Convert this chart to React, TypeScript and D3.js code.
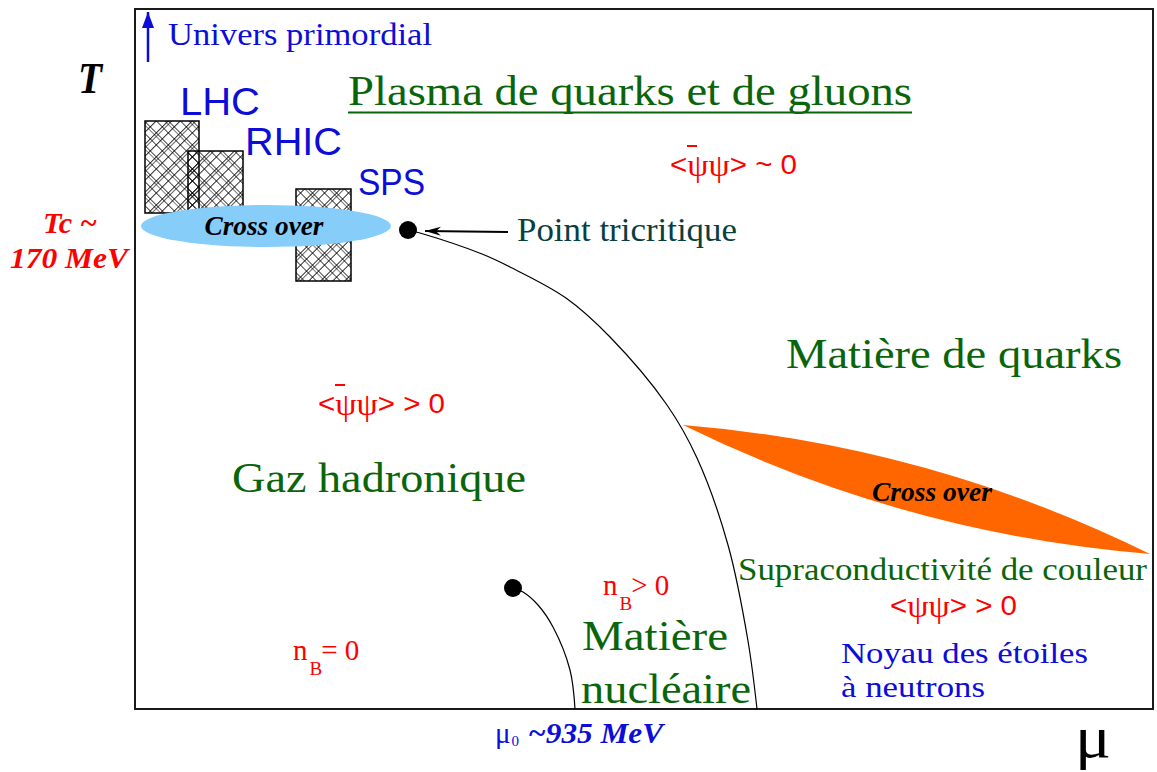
import React from "react";
import * as d3 from "d3";

// ---------- data (diagram units: mu 0..1018, T 0..700) ----------
const MU_DOMAIN: [number, number] = [0, 1018];
const T_DOMAIN: [number, number] = [0, 700];

// first-order transition line starting at the tricritical point
const firstOrderLine: [number, number][] = [
  [273, 479], [285, 476], [347, 455], [375, 442], [431, 411], [475, 372], [532, 304], [562, 251], [593, 164], [613, 68], [622, 0],
];
// liquid-gas line of nuclear matter
const nuclearLine: [number, number][] = [
  [378, 121], [388, 117], [403, 104], [418, 82], [435, 39], [440, 0],
];
const criticalPoints = [
  { name: "tricritique", mu: 273, T: 479 },
  { name: "nucleaire", mu: 378, T: 121 },
];
const experiments = [
  { name: "LHC", mu0: 10, mu1: 64, T0: 496, T1: 588, labelMu: 45, labelT: 594 },
  { name: "RHIC", mu0: 53, mu1: 108, T0: 496, T1: 558, labelMu: 110, labelT: 554 },
  { name: "SPS", mu0: 161, mu1: 216, T0: 428, T1: 520, labelMu: 223, labelT: 514 },
];
const crossoverLow = { mu: 131, T: 483, dMu: 125, dT: 21, label: "Cross over", labelMu: 129, labelT: 474 };
const crossoverHigh = { mu0: 548, T0: 284, mu1: 1015, T1: 155, label: "Cross over", labelMu: 737, labelT: 208 };

const regionLabels = [
  { id: "univers", text: "Univers primordial", mu: 33, T: 664 },
  { id: "plasma", text: "Plasma de quarks et de gluons", mu: 213, T: 604 },
  { id: "tricrit", text: "Point tricritique", mu: 382, T: 468 },
  { id: "quarks", text: "Matière de quarks", mu: 651, T: 341 },
  { id: "gaz", text: "Gaz hadronique", mu: 97, T: 217 },
  { id: "supra", text: "Supraconductivité de couleur", mu: 603, T: 129 },
  { id: "noyau", text: "Noyau des étoiles", mu: 706, T: 46 },
  { id: "neutrons", text: "à neutrons", mu: 706, T: 12 },
  { id: "matiere", text: "Matière", mu: 447, T: 59 },
  { id: "nucleaire", text: "nucléaire", mu: 446, T: 6 },
  { id: "Tc", text: "Tc ~", mu: -65, T: 476 },
  { id: "Tc2", text: "170 MeV", mu: -66, T: 441 },
  { id: "Taxis", text: "T", mu: -57, T: 616 },
  { id: "muaxis", text: "μ", mu: 940, T: -48 },
];
const condensateLabels = [
  { open: "<", psi: "ψψ", close: "> ~ 0", bar: true, mu: 535, T: 535 },
  { open: "<", psi: "ψψ", close: "> > 0", bar: true, mu: 183, T: 296 },
  { open: "<", psi: "ψψ", close: "> > 0", bar: false, mu: 755, T: 94 },
];
const densityLabels = [
  { base: "n", sub: "B", rest: "> 0", mu: 468, T: 114 },
  { base: "n", sub: "B", rest: "= 0", mu: 158, T: 49 },
];
const mu0Label = { sym: "μ", sub: "0", value: "~935 MeV", mu: 360, T: -34 };
const tricritArrow = { from: [373, 477], to: [290, 478] };
const universArrow = { from: [13, 647], to: [13, 697] };

// ---------- styles ----------
const BLUE = "#0d0dd8";
const GREEN = "#0a650a";
const RED = "#ff0000";
const SERIF = "'Liberation Serif', 'Times New Roman', serif";
const SANS = "'Liberation Sans', Arial, sans-serif";

const labelStyle: Record<string, any> = {
  univers: { size: 32, fill: BLUE, width: 264 },
  plasma: { size: 43, fill: GREEN, width: 564, underline: true },
  tricrit: { size: 33, fill: "#0a3f3f", width: 220 },
  quarks: { size: 42, fill: GREEN, width: 336 },
  gaz: { size: 42, fill: GREEN, width: 294 },
  supra: { size: 31, fill: GREEN, width: 409 },
  noyau: { size: 30, fill: BLUE, width: 247 },
  neutrons: { size: 30, fill: BLUE, width: 144 },
  matiere: { size: 42, fill: GREEN, width: 146 },
  nucleaire: { size: 42, fill: GREEN, width: 170 },
  Tc: { size: 29, fill: RED, width: 54, bold: true, italic: true, anchor: "middle" },
  Tc2: { size: 29, fill: RED, width: 118, bold: true, italic: true, anchor: "middle" },
  Taxis: { size: 44, fill: "#000", width: 24, bold: true, italic: true },
  muaxis: { size: 60, fill: "#000", width: 36 },
};
const expStyle: Record<string, any> = {
  LHC: { size: 38, width: 80 },
  RHIC: { size: 38, width: 97 },
  SPS: { size: 37, width: 67 },
};

export default function App() {
  const x = d3.scaleLinear().domain(MU_DOMAIN).range([135, 1153]);
  const y = d3.scaleLinear().domain(T_DOMAIN).range([709, 9]);

  const line = d3
    .line<[number, number]>()
    .x((d) => x(d[0]))
    .y((d) => y(d[1]))
    .curve(d3.curveCatmullRom.alpha(0.5));

  // lens shaped high-density crossover
  const p0 = [x(crossoverHigh.mu0), y(crossoverHigh.T0)];
  const p1 = [x(crossoverHigh.mu1), y(crossoverHigh.T1)];
  const dx = p1[0] - p0[0];
  const dy = p1[1] - p0[1];
  const len = Math.hypot(dx, dy);
  const px = dy / len, py = -dx / len;
  const off = 0.095 * len;
  const mx = (p0[0] + p1[0]) / 2, my = (p0[1] + p1[1]) / 2;
  const lens = d3.path();
  lens.moveTo(p0[0], p0[1]);
  lens.quadraticCurveTo(mx + px * off, my + py * off, p1[0], p1[1]);
  lens.quadraticCurveTo(mx - px * off, my - py * off, p0[0], p0[1]);
  lens.closePath();

  return (
    <svg
      width={1157}
      height={772}
      style={{ position: "absolute", left: 0, top: 0, background: "#fff" }}
    >
      <defs>
        <pattern id="hatchA" width="8.5" height="8.5" patternUnits="userSpaceOnUse" patternTransform="rotate(45)">
          <path d="M0 0V8.5M0 0H8.5" stroke="#000" strokeWidth={1.6} fill="none" />
        </pattern>
        <pattern id="hatchB" width="17" height="17" patternUnits="userSpaceOnUse" patternTransform="rotate(45) translate(2.5,2.5)">
          <path d="M0 0V17M0 0H17" stroke="#000" strokeWidth={1.2} fill="none" />
        </pattern>
        <marker id="arrowHead" viewBox="0 0 16 10" refX="16" refY="5" markerWidth="16" markerHeight="10" markerUnits="userSpaceOnUse" orient="auto">
          <path d="M16 5 L0 0.5 L5 5 L0 9.5 Z" fill="#000" />
        </marker>
        <marker id="arrowUp" viewBox="0 0 16 12" refX="16" refY="6" markerWidth="16" markerHeight="12" markerUnits="userSpaceOnUse" orient="auto">
          <path d="M16 6 L0 0 L0 12 Z" fill={BLUE} />
        </marker>
      </defs>

      <rect width={1157} height={772} fill="#fff" />

      {/* frame */}
      <rect
        x={x(MU_DOMAIN[0])}
        y={y(T_DOMAIN[1])}
        width={x(MU_DOMAIN[1]) - x(MU_DOMAIN[0])}
        height={y(T_DOMAIN[0]) - y(T_DOMAIN[1])}
        fill="none"
        stroke="#1a1a1a"
        strokeWidth={2}
      />

      {/* experiments */}
      {experiments.map((e) => {
        const rx = x(e.mu0), ry = y(e.T1), rw = x(e.mu1) - x(e.mu0), rh = y(e.T0) - y(e.T1);
        return (
          <g key={e.name}>
            <rect x={rx} y={ry} width={rw} height={rh} fill="url(#hatchA)" />
            <rect x={rx} y={ry} width={rw} height={rh} fill="url(#hatchB)" />
            <rect x={rx} y={ry} width={rw} height={rh} fill="none" stroke="#000" strokeWidth={1.5} />
          </g>
        );
      })}
      {experiments.map((e) => (
        <text
          key={e.name + "l"}
          x={x(e.labelMu)}
          y={y(e.labelT)}
          fontFamily={SANS}
          fontSize={expStyle[e.name].size}
          fill={BLUE}
          textLength={expStyle[e.name].width}
          lengthAdjust="spacingAndGlyphs"
        >
          {e.name}
        </text>
      ))}

      {/* low-density crossover */}
      <ellipse
        cx={x(crossoverLow.mu)}
        cy={y(crossoverLow.T)}
        rx={x(crossoverLow.dMu) - x(0)}
        ry={y(0) - y(crossoverLow.dT)}
        fill="#87cdf9"
      />
      <text
        x={x(crossoverLow.labelMu)}
        y={y(crossoverLow.labelT)}
        textAnchor="middle"
        fontFamily={SERIF}
        fontWeight="bold"
        fontStyle="italic"
        fontSize={27}
        textLength={119}
        lengthAdjust="spacingAndGlyphs"
      >
        {crossoverLow.label}
      </text>

      {/* high-density crossover */}
      <path d={lens.toString()} fill="#ff6600" />
      <text
        x={x(crossoverHigh.labelMu)}
        y={y(crossoverHigh.labelT)}
        fontFamily={SERIF}
        fontWeight="bold"
        fontStyle="italic"
        fontSize={27}
        textLength={120}
        lengthAdjust="spacingAndGlyphs"
      >
        {crossoverHigh.label}
      </text>

      {/* transition lines */}
      <path d={line(firstOrderLine) || ""} fill="none" stroke="#000" strokeWidth={1.2} />
      <path d={line(nuclearLine) || ""} fill="none" stroke="#000" strokeWidth={1.2} />
      {criticalPoints.map((p) => (
        <circle key={p.name} cx={x(p.mu)} cy={y(p.T)} r={9} fill="#000" />
      ))}

      {/* arrows */}
      <line
        x1={x(tricritArrow.from[0])}
        y1={y(tricritArrow.from[1])}
        x2={x(tricritArrow.to[0])}
        y2={y(tricritArrow.to[1])}
        stroke="#000"
        strokeWidth={2.2}
        markerEnd="url(#arrowHead)"
      />
      <line
        x1={x(universArrow.from[0])}
        y1={y(universArrow.from[1])}
        x2={x(universArrow.to[0])}
        y2={y(universArrow.to[1])}
        stroke={BLUE}
        strokeWidth={2.5}
        markerEnd="url(#arrowUp)"
      />

      {/* region labels */}
      {regionLabels.map((l) => {
        const s = labelStyle[l.id];
        const tx = x(l.mu), ty = y(l.T);
        return (
          <g key={l.id}>
            <text
              x={tx}
              y={ty}
              textAnchor={s.anchor || "start"}
              fontFamily={SERIF}
              fontSize={s.size}
              fontWeight={s.bold ? "bold" : "normal"}
              fontStyle={s.italic ? "italic" : "normal"}
              fill={s.fill}
              textLength={s.width}
              lengthAdjust="spacingAndGlyphs"
            >
              {l.text}
            </text>
            {s.underline && (
              <line x1={tx} x2={tx + s.width} y1={ty + 7.5} y2={ty + 7.5} stroke={s.fill} strokeWidth={2.2} />
            )}
          </g>
        );
      })}

      {/* condensates */}
      {condensateLabels.map((c, i) => {
        const tx = x(c.mu), ty = y(c.T);
        return (
          <g key={"c" + i}>
            <text
              x={tx}
              y={ty}
              fontFamily={SANS}
              fontSize={27}
              fill={RED}
              textLength={127}
              lengthAdjust="spacingAndGlyphs"
            >
              {c.open}
              <tspan fontFamily={SERIF} fontSize={31} dy={2}>{c.psi}</tspan>
              <tspan dy={-2}>{c.close}</tspan>
            </text>
            {c.bar && <line x1={tx + 17} x2={tx + 27} y1={ty - 28} y2={ty - 28} stroke={RED} strokeWidth={2} />}
          </g>
        );
      })}

      {/* baryon density */}
      {densityLabels.map((d, i) => {
        const tx = x(d.mu), ty = y(d.T);
        return (
          <text key={"n" + i} x={tx} y={ty} fontFamily={SERIF} fontSize={29} fill={RED}>
            {d.base}
            <tspan dy={15} fontSize={19} dx={2}>{d.sub}</tspan>
            <tspan dy={-15} dx={-1}>{d.rest}</tspan>
          </text>
        );
      })}

      {/* mu0 label */}
      <text x={x(mu0Label.mu)} y={y(mu0Label.T)} fill={BLUE} fontFamily={SERIF} fontSize={29}>
        {mu0Label.sym}
        <tspan fontSize={15} dy={3} dx={1}>{mu0Label.sub}</tspan>
        <tspan
          x={x(mu0Label.mu) + 33}
          dy={-3}
          fontWeight="bold"
          fontStyle="italic"
          textLength={135}
          lengthAdjust="spacingAndGlyphs"
        >
          {mu0Label.value}
        </tspan>
      </text>
    </svg>
  );
}
